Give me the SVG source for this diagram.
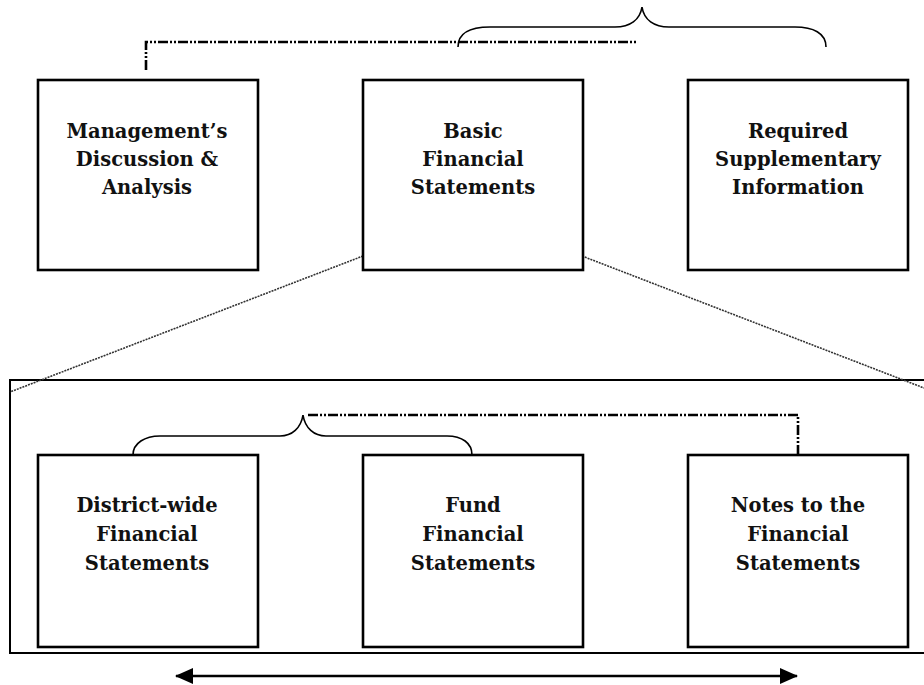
<svg xmlns="http://www.w3.org/2000/svg" width="924" height="685" viewBox="0 0 924 685">
<style>
  .box { fill: #fff; stroke: #000; stroke-width: 2.6; }
  .frame { fill: none; stroke: #000; stroke-width: 2; }
  .lbl { font-family: "DejaVu Serif", "Liberation Serif", serif; font-weight: bold; font-size: 19.5px; fill: #111; text-anchor: middle; }
  .dashdot { fill: none; stroke: #000; stroke-width: 2.6; stroke-dasharray: 10 2 2 2 2 2; }
  .brace { fill: none; stroke: #000; stroke-width: 1.6; }
  .dotted { fill: none; stroke: #333; stroke-width: 1.6; stroke-dasharray: 2 1; }
  .arrow { fill: none; stroke: #000; stroke-width: 2.6; }
</style>
<defs>
  <marker id="ah" viewBox="0 0 18 16" refX="17" refY="8" markerWidth="18" markerHeight="16" markerUnits="userSpaceOnUse" orient="auto-start-reverse">
    <path d="M0,0 L18,8 L0,16 Z" fill="#000"/>
  </marker>
</defs>
<rect width="924" height="685" fill="#fff"/>

<g id="container">
  <rect class="frame" x="10" y="380" width="930" height="273"/>
</g>

<g id="connectors">
  <line class="dotted" x1="363" y1="256" x2="10" y2="392"/>
  <line class="dotted" x1="582" y1="256" x2="924" y2="388"/>
  <path class="dashdot" d="M146,70 L146,42 L636,42"/>
  <path class="brace" d="M458,47 C458,33 470,27 490,27 L615,27 C630,27 640,20 642,7 C644,20 654,27 669,27 L795,27 C813,27 826,33 826,47"/>
  <path class="dashdot" d="M308,415 L798,415 L798,462"/>
  <path class="brace" d="M133,455 C133,443 145,436 160,436 L280,436 C292,436 301,428 303,415 C305,428 314,436 326,436 L447,436 C462,436 472,443 472,455"/>
  <line class="arrow" x1="176" y1="676" x2="797" y2="676" marker-start="url(#ah)" marker-end="url(#ah)"/>
</g>

<g id="mda">
  <rect class="box" x="38" y="80" width="220" height="190"/>
  <text class="lbl" x="147" y="138">Management’s</text>
  <text class="lbl" x="147" y="166">Discussion &amp;</text>
  <text class="lbl" x="147" y="194">Analysis</text>
</g>
<g id="bfs">
  <rect class="box" x="363" y="80" width="220" height="190"/>
  <text class="lbl" x="473" y="138">Basic</text>
  <text class="lbl" x="473" y="166">Financial</text>
  <text class="lbl" x="473" y="194">Statements</text>
</g>
<g id="rsi">
  <rect class="box" x="688" y="80" width="220" height="190"/>
  <text class="lbl" x="798" y="138">Required</text>
  <text class="lbl" x="798" y="166">Supplementary</text>
  <text class="lbl" x="798" y="194">Information</text>
</g>

<g id="dwfs">
  <rect class="box" x="38" y="455" width="220" height="192"/>
  <text class="lbl" x="147" y="512">District-wide</text>
  <text class="lbl" x="147" y="541">Financial</text>
  <text class="lbl" x="147" y="570">Statements</text>
</g>
<g id="ffs">
  <rect class="box" x="363" y="455" width="220" height="192"/>
  <text class="lbl" x="473" y="512">Fund</text>
  <text class="lbl" x="473" y="541">Financial</text>
  <text class="lbl" x="473" y="570">Statements</text>
</g>
<g id="notes">
  <rect class="box" x="688" y="455" width="220" height="192"/>
  <text class="lbl" x="798" y="512">Notes to the</text>
  <text class="lbl" x="798" y="541">Financial</text>
  <text class="lbl" x="798" y="570">Statements</text>
</g>
</svg>
